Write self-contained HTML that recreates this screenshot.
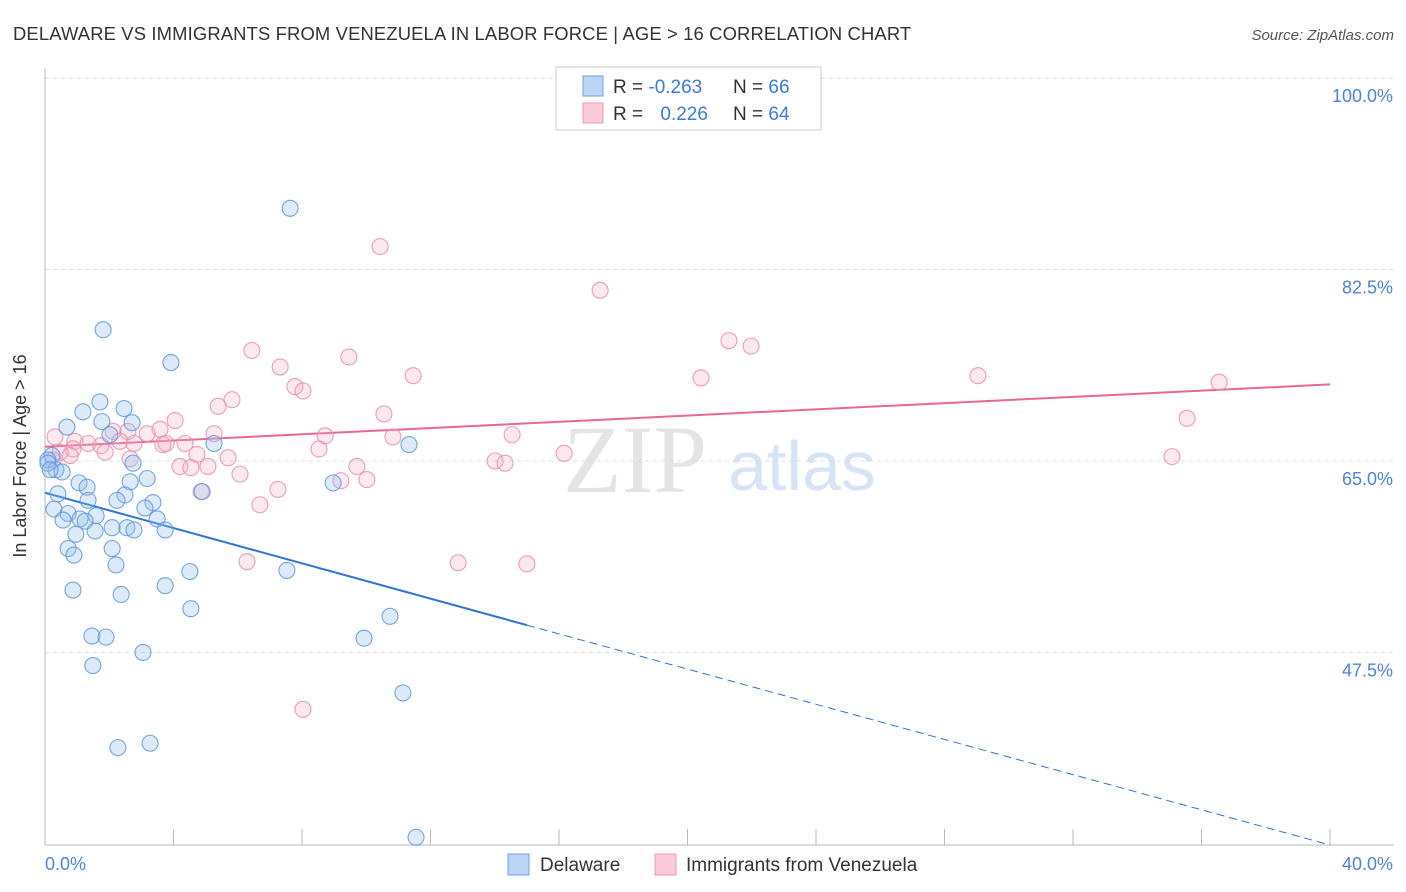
<!DOCTYPE html>
<html><head><meta charset="utf-8"><style>
body{margin:0;background:#fff;font-family:"Liberation Sans",sans-serif;}
#wrap{position:relative;width:1406px;height:892px;overflow:hidden;}
</style></head><body>
<div id="wrap">
<svg id="chart" width="1406" height="892" xmlns="http://www.w3.org/2000/svg">
<text x="13" y="40" font-size="18.4" letter-spacing="0.15" fill="#333">DELAWARE VS IMMIGRANTS FROM VENEZUELA IN LABOR FORCE | AGE &gt; 16 CORRELATION CHART</text>
<text x="1394" y="40" font-size="15" fill="#555" font-style="italic" text-anchor="end">Source: ZipAtlas.com</text>
<text x="635" y="492" font-size="96" fill="#e4e4e4" font-family="Liberation Serif,serif" text-anchor="middle">ZIP</text>
<text x="802" y="490" font-size="70" fill="#d6e4f5" text-anchor="middle">atlas</text>
<g id="grid"></g><g id="axes"></g><g id="lines"></g><g id="pts"></g>
<text x="26" y="456" font-size="18" fill="#333" text-anchor="middle" transform="rotate(-90 26 456)">In Labor Force | Age &gt; 16</text>
<text x="45" y="870" font-size="18" fill="#4a86d8">0.0%</text>
<text x="1393" y="870" font-size="18" fill="#4a86d8" text-anchor="end">40.0%</text>
<g>
<rect x="556" y="67" width="265" height="63" fill="#fff" stroke="#ccc"/>
<rect x="583" y="76" width="20" height="20" fill="#bcd5f5" stroke="#6fa3e0"/>
<rect x="583" y="103" width="20" height="20" fill="#f9cad8" stroke="#ef9ab5"/>
<text x="613" y="93" font-size="19" fill="#333">R = <tspan fill="#3b7dd8">-0.263</tspan></text>
<text x="733" y="93" font-size="19" fill="#333">N = <tspan fill="#3b7dd8">66</tspan></text>
<text x="613" y="120" font-size="19" fill="#333">R = <tspan fill="#3b7dd8" dx="12">0.226</tspan></text>
<text x="733" y="120" font-size="19" fill="#333">N = <tspan fill="#3b7dd8">64</tspan></text>
</g>
<g>
<rect x="508" y="854" width="21" height="21" fill="#bcd5f5" stroke="#6fa3e0"/>
<text x="540" y="871" font-size="19" fill="#333">Delaware</text>
<rect x="655" y="854" width="21" height="21" fill="#f9cad8" stroke="#ef9ab5"/>
<text x="686" y="871" font-size="19" fill="#333">Immigrants from Venezuela</text>
</g>
</svg>
</div>
<script>
const yTicks=[47.5,65.0,82.5,100.0];
const yTickLabels=["47.5%","65.0%","82.5%","100.0%"];
const xTicks=[0,4,8,12,16,20,24,28,32,36,40];
const blueX=[7.63,1.81,3.92,1.71,2.46,1.18,0.68,1.77,2.71,5.26,11.33,2.02,0.22,0.09,0.34,0.53,2.74,0.40,3.18,1.06,1.31,2.65,8.97,2.49,2.24,3.36,0.28,1.34,3.11,0.72,0.56,1.59,1.09,1.25,3.49,2.09,2.55,2.77,3.74,1.56,0.96,4.89,0.72,2.09,0.90,2.21,4.51,7.53,0.87,3.74,2.37,4.54,10.74,1.46,1.90,9.93,3.05,1.49,11.14,3.27,2.27,11.55,0.09,0.16];
const blueY=[88.1,77.0,74.0,70.4,69.8,69.5,68.1,68.6,68.5,66.6,66.5,67.4,65.5,65.1,64.2,64.0,64.8,62.0,63.4,63.0,62.6,63.1,63.0,61.9,61.4,61.2,60.6,61.4,60.7,60.2,59.6,60.0,59.7,59.5,59.7,58.9,58.9,58.7,58.7,58.6,58.3,62.2,57.0,57.0,56.4,55.5,54.9,55.0,53.2,53.6,52.8,51.5,50.8,49.0,48.9,48.8,47.5,46.3,43.8,39.2,38.8,30.6,64.8,64.2];
const pinkX=[10.43,17.28,21.29,21.98,6.44,9.46,7.32,20.42,29.04,36.55,11.46,7.78,8.03,5.82,5.39,10.55,35.55,4.05,3.58,2.12,2.58,3.18,5.26,8.72,10.83,14.54,0.31,0.93,1.34,2.77,4.36,2.33,3.67,3.77,1.74,0.87,0.47,1.87,8.53,4.73,5.70,0.25,2.65,16.16,35.08,14.01,14.32,9.71,4.20,4.54,5.07,6.07,9.21,10.02,7.25,4.86,6.69,12.86,15.0,6.29,8.03,0.78];
const pinkY=[84.6,80.6,76.0,75.5,75.1,74.5,73.6,72.6,72.8,72.2,72.8,71.8,71.4,70.6,70.0,69.3,68.9,68.7,67.9,67.7,67.7,67.5,67.5,67.3,67.2,67.4,67.2,66.8,66.6,66.6,66.6,66.8,66.5,66.6,66.4,66.1,65.8,65.8,66.1,65.6,65.3,65.1,65.2,65.7,65.4,65.0,64.8,64.5,64.5,64.4,64.5,63.8,63.2,63.3,62.4,62.2,61.0,55.7,55.6,55.8,42.3,65.5];
const blueTrend=[[0,62.1],[15,50.0],[40,29.9]];
const pinkTrend=[[0,66.3],[40,72.0]];
const NS="http://www.w3.org/2000/svg";
const sx=v=>45+v*32.125;
const sy=v=>461-(v-65)*10.94;
function mk(tag,attrs,parent){const e=document.createElementNS(NS,tag);for(const k in attrs)e.setAttribute(k,attrs[k]);document.getElementById(parent).appendChild(e);return e;}
yTicks.forEach((t,i)=>{
 const l=mk('line',{x1:45,x2:1394,y1:sy(t),y2:sy(t),stroke:'#ddd','stroke-dasharray':'4,4'},'grid');
 
 
 const tx=mk('text',{x:1393,y:sy(t)+24,'font-size':18,fill:'#4a86d8','text-anchor':'end'},'grid');
 tx.textContent=yTickLabels[i];
 
 
});
const ax=mk('line',{x1:45,x2:45,y1:68,y2:845,stroke:'#bbb'},'axes');


const bx=mk('line',{x1:45,x2:1394,y1:845,y2:845,stroke:'#bbb'},'axes');


xTicks.forEach(t=>{
 const l=mk('line',{x1:sx(t),x2:sx(t),y1:829,y2:845,stroke:'#bbb'},'axes');
 
 
});
function dot(x,y,fill,stroke,name){
 const c=mk('circle',{cx:sx(x),cy:sy(y),r:8,fill:fill,stroke:stroke,'stroke-width':1.1},'pts');
 
 
}
pinkX.forEach((x,i)=>dot(x,pinkY[i],'rgba(246,176,198,0.28)','rgba(236,140,172,0.85)','venezuela-point'));
blueX.forEach((x,i)=>dot(x,blueY[i],'rgba(150,190,238,0.33)','rgba(95,150,220,0.85)','delaware-point'));
const b1=mk('line',{x1:sx(blueTrend[0][0]),y1:sy(blueTrend[0][1]),x2:sx(blueTrend[1][0]),y2:sy(blueTrend[1][1]),stroke:'#2f74d6','stroke-width':2},'lines');


const b2=mk('line',{x1:sx(blueTrend[1][0]),y1:sy(blueTrend[1][1]),x2:sx(blueTrend[2][0]),y2:sy(blueTrend[2][1]),stroke:'#2f74d6','stroke-width':1,'stroke-dasharray':'8,5'},'lines');


const p1=mk('line',{x1:sx(pinkTrend[0][0]),y1:sy(pinkTrend[0][1]),x2:sx(pinkTrend[1][0]),y2:sy(pinkTrend[1][1]),stroke:'#e8679a','stroke-width':2},'lines');


</script>
</body></html>
